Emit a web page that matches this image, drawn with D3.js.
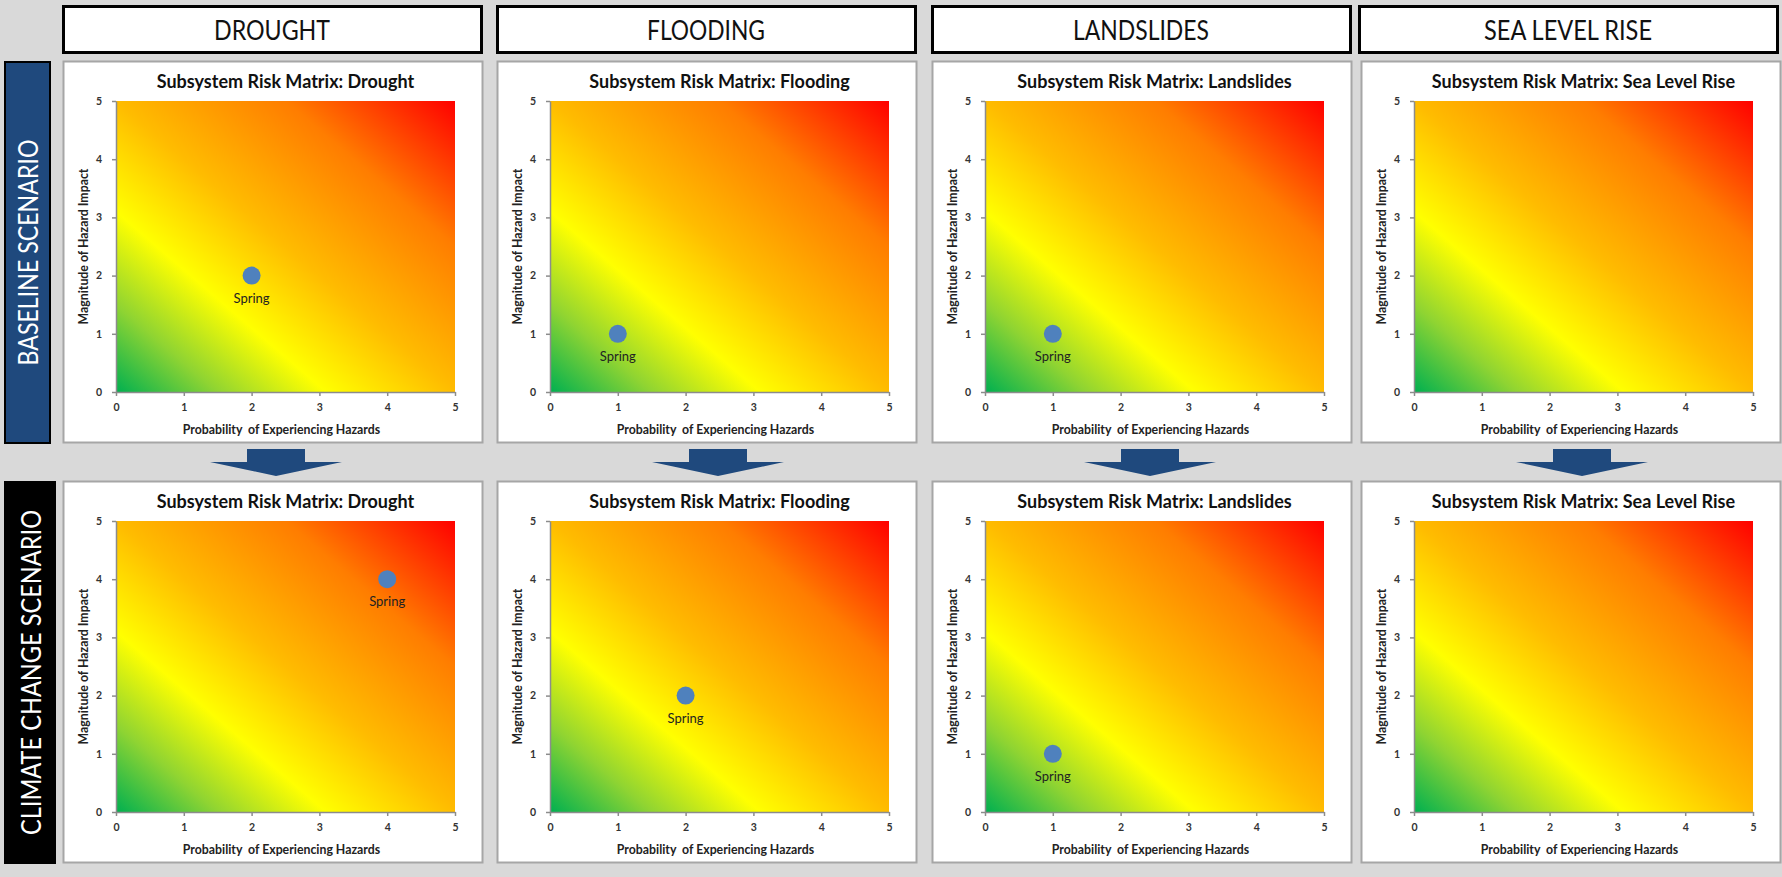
<!DOCTYPE html>
<html>
<head>
<meta charset="utf-8">
<script src="https://cdn.jsdelivr.net/npm/d3@7"></script>
<style>
  body { margin: 0; background: #d9d9d9; }
  svg { display: block; }
  text { font-family: Lato, "Open Sans", sans-serif; }
</style>
</head>
<body>
<svg id="chart" width="1782" height="877"></svg>
<script>
// data
const hazards = ["DROUGHT", "FLOODING", "LANDSLIDES", "SEA LEVEL RISE"];
const hazardTitles = ["Drought", "Flooding", "Landslides", "Sea Level Rise"];
const scenarios = ["BASELINE SCENARIO", "CLIMATE CHANGE SCENARIO"];
const pointName = "Spring";
// probability / impact of the Spring subsystem, null = no point
const baselineProbability = [2, 1, 1, null];
const baselineImpact = [2, 1, 1, null];
const climateProbability = [4, 2, 1, null];
const climateImpact = [4, 2, 1, null];
const tickValues = [0, 1, 2, 3, 4, 5];
const xTitle = "Probability  of Experiencing Hazards";
const yTitle = "Magnitude of Hazard Impact";

// layout
const colX = [63, 497, 932, 1361];
const headX = [62, 496, 931, 1358];
const arrowX = [276, 718, 1150, 1582];
const rowY = [61, 481];
const panelW = 419, panelH = 381;
const plotL = 53, plotT = 40, plotW = 339, plotH = 291;

const svg = d3.select("#chart");

// gradient
let defs = svg.append("defs");
let grad = defs.append("linearGradient")
    .attr("id", "risk")
    .attr("x1", 0).attr("y1", 1).attr("x2", 1).attr("y2", 0);
[[0, "#00b050"], [0.15, "#8fd432"], [0.31, "#ffff00"], [0.5, "#ffbc00"], [0.75, "#ff7d00"], [1, "#ff0000"]]
    .forEach(([o, c]) => grad.append("stop").attr("offset", o).attr("stop-color", c));

// headers
const headTextW = [116, 118, 136, 168];
hazards.forEach((h, i) => {
    svg.append("rect")
        .attr("x", headX[i] + 1.5).attr("y", 6.5)
        .attr("width", 418).attr("height", 46)
        .attr("fill", "white").attr("stroke", "black").attr("stroke-width", 3);
    svg.append("text")
        .attr("x", headX[i] + 210).attr("y", 40)
        .attr("text-anchor", "middle")
        .attr("font-size", 26)
        .attr("textLength", headTextW[i]).attr("lengthAdjust", "spacingAndGlyphs")
        .attr("fill", "#111")
        .text(h);
});

// scenario side labels
const sideFill = ["#1f497d", "#000000"];
const sideW = [46, 51];
const sideTextL = [226, 325];
scenarios.forEach((s, r) => {
    svg.append("rect")
        .attr("x", 5).attr("y", rowY[r] + 1)
        .attr("width", sideW[r] - 1).attr("height", panelH)
        .attr("fill", sideFill[r]).attr("stroke", "black").attr("stroke-width", 2);
    let cx = 5 + sideW[r] / 2, cy = rowY[r] + panelH / 2 + 1;
    svg.append("text")
        .attr("transform", `translate(${cx + 10},${cy}) rotate(-90)`)
        .attr("text-anchor", "middle")
        .attr("font-size", 27)
        .attr("textLength", sideTextL[r]).attr("lengthAdjust", "spacingAndGlyphs")
        .attr("fill", "white")
        .text(s);
});

// arrows
arrowX.forEach(ax => {
    let y0 = 449;
    svg.append("path")
        .attr("d", `M${ax - 29},${y0} H${ax + 29} V${y0 + 13} H${ax + 66} L${ax},${y0 + 27} L${ax - 66},${y0 + 13} H${ax - 29} Z`)
        .attr("fill", "#1f497d");
});

// panels
const probs = [baselineProbability, climateProbability];
const impacts = [baselineImpact, climateImpact];

rowY.forEach((py, r) => {
    hazardTitles.forEach((t, i) => {
        let g = svg.append("g").attr("transform", `translate(${colX[i]},${py})`);
        g.append("rect")
            .attr("x", 0.5).attr("y", 0.5)
            .attr("width", panelW).attr("height", panelH)
            .attr("fill", "white").attr("stroke", "#a6a6a6").attr("stroke-width", 2);

        let x = d3.scaleLinear().domain([0, 5]).range([0, plotW]);
        let y = d3.scaleLinear().domain([0, 5]).range([plotH, 0]);
        let inner = g.append("g").attr("transform", `translate(${plotL},${plotT})`);

        inner.append("rect")
            .attr("width", plotW).attr("height", plotH)
            .attr("fill", "url(#risk)");

        inner.append("g")
            .attr("transform", `translate(0,${plotH})`)
            .call(d3.axisBottom(x).tickValues(tickValues).tickFormat(d3.format("d"))
                .tickSize(4).tickSizeOuter(0).tickPadding(8));
        inner.append("g")
            .call(d3.axisLeft(y).tickValues(tickValues).tickFormat(d3.format("d"))
                .tickSize(4).tickSizeOuter(0).tickPadding(10));
        inner.selectAll(".domain, .tick line").attr("stroke", "#8c8c8c").attr("stroke-width", 1.5);
        inner.selectAll(".tick text")
            .attr("font-size", 10.5).attr("font-weight", "bold").attr("fill", "#333");

        g.append("text")
            .attr("x", plotL + plotW / 2).attr("y", 27)
            .attr("text-anchor", "middle")
            .attr("font-size", 18).attr("font-weight", "bold").attr("fill", "#111")
            .text("Subsystem Risk Matrix: " + t);
        g.append("text")
            .attr("x", plotL + plotW / 2 - 4).attr("y", plotT + plotH + 42)
            .attr("text-anchor", "middle")
            .attr("font-size", 12.3).attr("font-weight", "bold").attr("fill", "#222")
            .style("white-space", "pre")
            .text(xTitle);
        g.append("text")
            .attr("transform", `translate(${plotL - 28},${plotT + plotH / 2}) rotate(-90)`)
            .attr("text-anchor", "middle")
            .attr("font-size", 12.3).attr("font-weight", "bold").attr("fill", "#222")
            .text(yTitle);

        let pv = probs[r][i], iv = impacts[r][i];
        if (pv != null) {
            inner.append("circle")
                .attr("cx", x(pv)).attr("cy", y(iv)).attr("r", 9)
                .attr("fill", "#4f81bd");
            inner.append("text")
                .attr("x", x(pv)).attr("y", y(iv) + 27)
                .attr("text-anchor", "middle")
                .attr("font-size", 13).attr("fill", "#222")
                .text(pointName);
        }
    });
});
</script>
</body>
</html>
